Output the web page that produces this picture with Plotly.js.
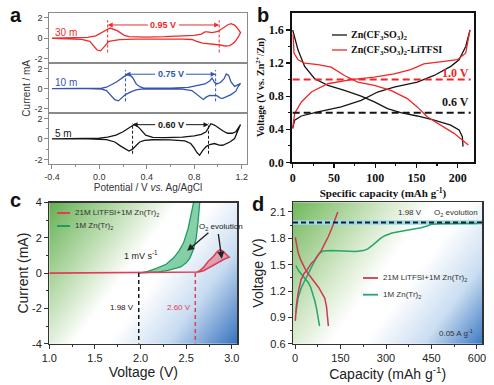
<!DOCTYPE html>
<html><head><meta charset="utf-8">
<script src="https://cdn.plot.ly/plotly-3.0.1.min.js"></script>
<style>html,body{margin:0;padding:0;background:#fff}#chart{width:494px;height:385px}</style>
</head><body><div id="chart"></div>
<script>
// ---------------- DATA ----------------
// Panel a: cyclic voltammograms (potential V vs Ag/AgCl, current mA)
const cv30x = [-0.40,-0.20,-0.10,-0.03,0.03,0.09,0.15,0.21,0.25,0.30,0.40,0.55,0.70,0.80,0.86,0.89,0.91,0.95,1.00,1.04,1.08,1.11,1.14,1.17,1.19,
               1.17,1.14,1.10,1.06,1.02,0.97,0.92,0.87,0.82,0.78,0.70,0.50,0.30,0.17,0.12,0.08,0.04,0.01,-0.02,-0.05,-0.08,-0.15,-0.25,-0.40];
const cv30y = [0.00,0.02,0.08,0.23,0.60,1.00,0.74,0.29,0.16,0.13,0.12,0.15,0.20,0.28,0.40,0.62,0.63,0.55,0.66,0.95,1.30,1.42,1.28,0.90,0.55,
               0.10,-0.40,-0.72,-0.76,-0.66,-0.58,-0.52,-0.48,-0.30,-0.12,-0.08,-0.07,-0.08,-0.13,-0.20,-0.30,-0.85,-1.23,-1.15,-0.74,-0.30,-0.10,-0.04,-0.02];
const cv10x = [-0.40,-0.10,0.02,0.06,0.10,0.14,0.18,0.21,0.25,0.28,0.31,0.34,0.37,0.45,0.60,0.75,0.84,0.89,0.93,0.95,0.97,0.99,1.02,1.05,1.07,1.09,1.11,1.14,1.17,1.19,
               1.17,1.15,1.11,1.07,1.04,1.02,0.99,0.93,0.90,0.876,0.85,0.82,0.78,0.70,0.50,0.35,0.31,0.27,0.22,0.19,0.16,0.13,0.10,0.06,0.02,-0.10,-0.40];
const cv10y = [0.00,0.00,0.03,0.13,0.35,0.62,0.95,1.20,1.42,1.10,0.46,0.18,0.07,0.04,0.05,0.12,0.29,0.45,0.75,1.04,0.62,0.46,0.60,0.95,1.45,1.30,0.65,0.22,0.38,0.52,
               0.20,-0.26,-0.60,-0.80,-0.98,-0.95,-0.70,-0.68,-0.85,-1.08,-0.85,-0.52,-0.20,-0.06,-0.04,-0.06,-0.13,-0.30,-0.60,-0.95,-1.22,-1.10,-0.69,-0.20,-0.05,0.00,0.00];
const cv5x = [-0.40,-0.10,0.00,0.07,0.14,0.20,0.24,0.27,0.30,0.34,0.39,0.45,0.55,0.70,0.80,0.86,0.90,0.92,0.94,0.97,1.00,1.04,1.08,1.12,1.15,1.17,1.19,
              1.16,1.14,1.10,1.07,1.04,1.01,0.97,0.93,0.90,0.87,0.845,0.82,0.80,0.77,0.72,0.60,0.45,0.38,0.34,0.31,0.28,0.25,0.22,0.18,0.13,0.06,-0.10,-0.40];
const cv5y = [0.00,0.02,0.07,0.18,0.37,0.70,1.00,1.30,1.46,1.03,0.37,0.15,0.12,0.18,0.30,0.45,0.70,1.10,1.48,1.35,1.10,0.80,0.55,0.55,0.70,1.00,1.40,
              0.60,0.04,-0.30,-0.50,-0.62,-0.60,-0.45,-0.55,-0.75,-1.15,-1.60,-1.30,-0.90,-0.45,-0.20,-0.10,-0.08,-0.15,-0.30,-0.65,-1.00,-1.19,-1.00,-0.70,-0.30,-0.07,0.00,0.00];
const cvLabels = ['30 m','10 m','5 m'];
const cvPeaks = [[0.07,1.01],[0.22,0.98],[0.28,0.92]];
const cvGapLabels = ['0.95 V','0.75 V','0.60 V'];
const aXTicks = [-0.4, 0, 0.4, 0.8, 1.2];
const aXTickText = ['-0.4', '0.0', '0.4', '0.8', '1.2'];
const aYTicks = [-2, 0, 2];
const aYTickText = ['-2', '0', '2'];

// Panel b: charge/discharge profiles (mAh/g, V)
const bBlackDisX = [0,6.4,14.5,26.6,42.7,62.8,83,99,115,131,151,171.5,191.6,201.7,205.7,206.5];
const bBlackDisY = [1.60,1.36,1.16,1.01,0.93,0.87,0.80,0.73,0.65,0.60,0.56,0.51,0.45,0.39,0.31,0.19];
const bBlackChX = [0,2.4,10.5,30.6,58.8,83,103,123,151,171.5,191.7,201.7,209.8,215];
const bBlackChY = [0.41,0.51,0.56,0.61,0.67,0.75,0.85,0.91,0.97,1.05,1.16,1.24,1.40,1.60];
const bRedDisX = [0.5,1.6,6.4,14.5,30.6,46.7,62.8,78.9,99,119,139,151,163,179.6,195.6,213];
const bRedDisY = [1.55,1.32,1.24,1.20,1.18,1.15,1.05,0.97,0.93,0.87,0.77,0.67,0.55,0.45,0.35,0.21];
const bRedChX = [0,2.4,10.5,22.6,42.6,70.9,99,123,143,159,183.6,199.6,209.8,215];
const bRedChY = [0.41,0.59,0.73,0.85,0.95,1.00,1.03,1.07,1.12,1.19,1.22,1.24,1.32,1.60];
const bSeriesNames = ['Zn(CF<sub>3</sub>SO<sub>3</sub>)<sub>2</sub>','Zn(CF<sub>3</sub>SO<sub>3</sub>)<sub>2</sub>-LiTFSI'];
const bRefLevels = [1.0, 0.6];
const bRefLabels = ['1.0 V','0.6 V'];

// Panel c: linear sweep (V, mA)
const cRedX = [1.00,2.60,2.64,2.69,2.75,2.80,2.86,2.92,2.97,2.93,2.90,2.87,2.84,2.80,2.74,2.69,2.64,2.60];
const cRedY = [0.00,0.02,0.06,0.13,0.30,0.47,0.65,0.80,0.90,1.10,1.25,1.32,1.22,0.95,0.66,0.32,0.10,0.02];
const cGreenX = [1.98,2.10,2.20,2.30,2.38,2.44,2.50,2.54,2.58,2.61,2.63,2.65,
                 2.585,2.56,2.52,2.47,2.42,2.36,2.28,2.18,2.08,2.00];
const cGreenY = [0.00,0.02,0.07,0.15,0.25,0.35,0.58,0.85,1.35,2.00,2.90,4.10,
                 4.10,3.40,2.50,1.70,1.25,0.85,0.50,0.28,0.10,0.01];
const cOnsets = [1.98, 2.60];
const cOnsetLabels = ['1.98 V','2.60 V'];
const cNames = ['21M LiTFSI+1M Zn(Tr)<sub>2</sub>','1M Zn(Tr)<sub>2</sub>'];
const cYTicks = [-4, -2, 0, 2, 4];
const cYTickText = ['-4', '-2', '0', '2', '4'];

// Panel d: charge/discharge (mAh/g, V)
const dRedChX = [1,5,11,20,30,38,45,55,65,75,85,98,110,122,132,141];
const dRedChY = [0.86,1.05,1.19,1.33,1.40,1.43,1.47,1.52,1.55,1.60,1.65,1.74,1.82,1.92,2.01,2.10];
const dRedDisX = [1,5,10,18,26,35,43,52,60,70,78,88,98,104,108,110];
const dRedDisY = [1.81,1.72,1.64,1.56,1.50,1.44,1.40,1.36,1.32,1.28,1.24,1.18,1.12,1.02,0.90,0.80];
const dGreenChX = [3,10,21,32,43,55,70,80,92,120,160,200,225,240,255,268,282,296,320,350,385,416,435,450,480,520,560,600];
const dGreenChY = [0.95,1.12,1.24,1.32,1.39,1.47,1.58,1.63,1.655,1.66,1.655,1.65,1.66,1.68,1.72,1.76,1.80,1.83,1.86,1.88,1.90,1.92,1.94,1.96,1.965,1.97,1.97,1.97];
const dGreenDisX = [3,12,26,43,52,60,66,71,76,81];
const dGreenDisY = [1.49,1.43,1.37,1.30,1.24,1.16,1.08,1.00,0.90,0.80];
const dO2Level = 1.98;

// ---------------- STYLE / LAYOUT ----------------
const W = 494, H = 385;
const fx = p => p / W, fy = p => 1 - p / H;
const dom = (a, b) => [a / W, b / W];
const domY = (top, bot) => [1 - bot / H, 1 - top / H];
const SANS = 'Liberation Sans, Arial, sans-serif';
const SERIF = 'Liberation Serif, Times New Roman, serif';
const RED_A = '#ee2b2b', BLUE_A = '#3454b4', BLK = '#151515';
const RED_B = '#f02626';
const RED_C = '#de3f58', GREEN_C = '#1f9d60';
const RED_D = '#cc3a56', GREEN_D = '#27a46f';
const cvColors = [RED_A, BLUE_A, BLK];
const NB = '\u00a0';

function grad(w, h, stops) {
  const c = document.createElement('canvas'); c.width = w; c.height = h;
  const g = c.getContext('2d'); const lg = g.createLinearGradient(0, 0, w, h);
  stops.forEach(s => lg.addColorStop(s[0], s[1]));
  g.fillStyle = lg; g.fillRect(0, 0, w, h); return c.toDataURL('image/png');
}

const traces = [];
const cvX = [cv30x, cv10x, cv5x], cvY = [cv30y, cv10y, cv5y];
const axSuffix = ['', '2', '3'];
for (let i = 0; i < 3; i++) {
  traces.push({x: cvX[i], y: cvY[i], xaxis: 'x' + axSuffix[i], yaxis: 'y' + axSuffix[i], mode: 'lines',
    name: cvLabels[i], line: {color: cvColors[i], width: 1.3}, hoverinfo: 'skip'});
}
traces.push({x: bBlackDisX, y: bBlackDisY, xaxis: 'x4', yaxis: 'y4', mode: 'lines', name: bSeriesNames[0], line: {color: BLK, width: 1.3}});
traces.push({x: bBlackChX, y: bBlackChY, xaxis: 'x4', yaxis: 'y4', mode: 'lines', name: bSeriesNames[0], line: {color: BLK, width: 1.3}});
traces.push({x: bRedDisX, y: bRedDisY, xaxis: 'x4', yaxis: 'y4', mode: 'lines', name: bSeriesNames[1], line: {color: RED_B, width: 1.3}});
traces.push({x: bRedChX, y: bRedChY, xaxis: 'x4', yaxis: 'y4', mode: 'lines', name: bSeriesNames[1], line: {color: RED_B, width: 1.3}});
traces.push({x: cGreenX, y: cGreenY, xaxis: 'x5', yaxis: 'y5', mode: 'lines', fill: 'toself', fillcolor: 'rgba(55,178,110,0.6)', name: cNames[1], line: {color: GREEN_C, width: 1.3}});
traces.push({x: cRedX, y: cRedY, xaxis: 'x5', yaxis: 'y5', mode: 'lines', fill: 'toself', fillcolor: 'rgba(232,105,120,0.55)', name: cNames[0], line: {color: RED_C, width: 1.6}});
traces.push({x: dGreenChX, y: dGreenChY, xaxis: 'x6', yaxis: 'y6', mode: 'lines', name: cNames[1], line: {color: GREEN_D, width: 1.5}});
traces.push({x: dGreenDisX, y: dGreenDisY, xaxis: 'x6', yaxis: 'y6', mode: 'lines', name: cNames[1], line: {color: GREEN_D, width: 1.5}});
traces.push({x: dRedChX, y: dRedChY, xaxis: 'x6', yaxis: 'y6', mode: 'lines', name: cNames[0], line: {color: RED_D, width: 1.5}});
traces.push({x: dRedDisX, y: dRedDisY, xaxis: 'x6', yaxis: 'y6', mode: 'lines', name: cNames[0], line: {color: RED_D, width: 1.5}});

const base = {zeroline: false, showgrid: false, showline: true, mirror: true, fixedrange: true, automargin: false};
const aLine = {linecolor: '#8a8a8a', linewidth: 1, tickcolor: '#8a8a8a'};
const aTick = {family: SANS, size: 9, color: '#333'};
const aDomX = dom(49.3, 246.7);
const aDomsY = [domY(12.7, 63.3), domY(63.3, 113.3), domY(113.3, 164)];
const layout = {
  width: W, height: H, margin: {l: 0, r: 0, t: 0, b: 0},
  paper_bgcolor: '#fff', plot_bgcolor: 'rgba(0,0,0,0)', showlegend: false,
  font: {family: SANS, size: 10, color: '#222'},
  shapes: [], annotations: [], images: []
};
for (let i = 0; i < 3; i++) {
  layout['xaxis' + axSuffix[i]] = Object.assign({}, base, aLine, {domain: aDomX, range: [-0.422, 1.242], anchor: 'y' + axSuffix[i],
    showticklabels: i === 2, ticks: i === 2 ? 'outside' : '', ticklen: 4,
    tickmode: 'array', tickvals: aXTicks, ticktext: aXTickText, tickfont: aTick,
    minor: i === 2 ? {tickvals: [-0.2, 0.2, 0.6, 1.0], ticks: 'outside', ticklen: 2, tickcolor: '#8a8a8a'} : undefined,
    title: i === 2 ? {text: 'Potential / V <i>vs.</i> Ag/AgCl', font: {family: SANS, size: 10, color: '#333'}, standoff: 3} : undefined});
  layout['yaxis' + axSuffix[i]] = Object.assign({}, base, aLine, {domain: aDomsY[i], range: [-2.45, 2.5], anchor: 'x' + axSuffix[i],
    tickmode: 'array', tickvals: aYTicks, ticktext: aYTickText, ticks: 'outside', ticklen: 4, tickfont: aTick,
    minor: {tickvals: [-1, 1], ticks: 'outside', ticklen: 2, tickcolor: '#8a8a8a'},
    title: i === 1 ? {text: 'Current / mA', font: {family: SANS, size: 10, color: '#333'}, standoff: 1} : undefined});
}
const bTick = {family: SERIF, size: 12, color: '#111', weight: 'bold'};
layout.xaxis4 = Object.assign({}, base, {domain: dom(291.7, 474.3), range: [-1.2, 220.2], anchor: 'y4',
  linecolor: '#111', linewidth: 1.5, ticks: 'outside', ticklen: 4, tickwidth: 1.2, tickcolor: '#111',
  tickvals: [0, 50, 100, 150, 200], tickfont: bTick,
  minor: {tickvals: [25, 75, 125, 175], ticks: 'outside', ticklen: 2, tickcolor: '#111'},
  title: {text: 'Specific capacity (mAh g<sup>-1</sup>)', font: {family: SERIF, size: 11, color: '#111', weight: 'bold'}, standoff: 5}});
layout.yaxis4 = Object.assign({}, base, {domain: domY(12.7, 162.3), range: [0, 1.809], anchor: 'x4',
  linecolor: '#111', linewidth: 1.5, ticks: 'outside', ticklen: 4, tickwidth: 1.2, tickcolor: '#111',
  tickvals: [0, 0.4, 0.8, 1.2, 1.6], tickformat: '.1f', tickfont: bTick,
  minor: {tickvals: [0.2, 0.6, 1.0, 1.4], ticks: 'outside', ticklen: 2, tickcolor: '#111'},
  title: {text: 'Voltage (V vs. Zn<sup>2+</sup>/Zn)' + NB.repeat(8), font: {family: SERIF, size: 10, color: '#111', weight: 'bold'}, standoff: 2}});
const cdTick = {family: SANS, size: 11, color: '#222'};
const cdTitle = {family: SANS, size: 14, color: '#222'};
const cdLine = {linecolor: '#333', linewidth: 1.2, tickcolor: '#333', ticks: 'outside', ticklen: 4};
layout.xaxis5 = Object.assign({}, base, cdLine, {domain: dom(49.3, 237.3), range: [1.0, 3.06], anchor: 'y5',
  tickvals: [1, 1.5, 2, 2.5, 3], tickformat: '.1f', tickfont: cdTick,
  minor: {tickvals: [1.25, 1.75, 2.25, 2.75], ticks: 'outside', ticklen: 2, tickcolor: '#333'},
  title: {text: 'Voltage (V)', font: cdTitle, standoff: 4}});
layout.yaxis5 = Object.assign({}, base, cdLine, {domain: domY(202.5, 343.7), range: [-4, 4], anchor: 'x5',
  tickmode: 'array', tickvals: cYTicks, ticktext: cYTickText, tickfont: cdTick,
  minor: {tickvals: [-3, -1, 1, 3], ticks: 'outside', ticklen: 2, tickcolor: '#333'},
  title: {text: 'Current (mA)', font: cdTitle, standoff: 0}});
layout.xaxis6 = Object.assign({}, base, cdLine, {domain: dom(293, 482.3), range: [-6.6, 617.5], anchor: 'y6',
  tickvals: [0, 150, 300, 450, 600], tickfont: cdTick,
  minor: {tickvals: [75, 225, 375, 525], ticks: 'outside', ticklen: 2, tickcolor: '#333'},
  title: {text: 'Capacity (mAh g<sup>-1</sup>)', font: cdTitle, standoff: 4}});
layout.yaxis6 = Object.assign({}, base, cdLine, {domain: domY(202.3, 343.7), range: [0.6, 2.21], anchor: 'x6',
  tickvals: [0.6, 0.9, 1.2, 1.5, 1.8, 2.1], tickformat: '.1f', tickfont: cdTick,
  minor: {tickvals: [0.75, 1.05, 1.35, 1.65, 1.95], ticks: 'outside', ticklen: 2, tickcolor: '#333'},
  title: {text: 'Voltage (V)', font: cdTitle, standoff: 3}});

// gradient backgrounds
layout.images.push({source: grad(188, 141, [[0, 'rgb(100,176,82)'], [0.3, 'rgb(205,230,195)'], [0.44, '#ffffff'], [0.56, '#ffffff'], [0.76, 'rgb(200,220,241)'], [1, 'rgb(55,115,192)']]),
  xref: 'paper', yref: 'paper', x: fx(49.3), y: fy(202.5), sizex: (237.3 - 49.3) / W, sizey: (343.7 - 202.5) / H,
  xanchor: 'left', yanchor: 'top', sizing: 'stretch', layer: 'below'});
layout.images.push({source: grad(189, 141, [[0, 'rgb(115,184,92)'], [0.34, 'rgb(218,236,208)'], [0.48, '#ffffff'], [0.6, '#ffffff'], [0.8, 'rgb(203,222,242)'], [1, 'rgb(62,122,196)']]),
  xref: 'paper', yref: 'paper', x: fx(293), y: fy(202.3), sizex: (482.3 - 293) / W, sizey: (343.7 - 202.3) / H,
  xanchor: 'left', yanchor: 'top', sizing: 'stretch', layer: 'below'});

const S = layout.shapes, A = layout.annotations;
// panel a dashed markers + arrows
const arrowY = [1.3, 1.42, 1.39];
const dashSpan = [[-1.4, 1.76], [-1.27, 1.83], [-1.45, 1.52]];
for (let i = 0; i < 3; i++) {
  const xr = 'x' + axSuffix[i], yr = 'y' + axSuffix[i];
  cvPeaks[i].forEach(p => S.push({type: 'line', xref: xr, yref: yr, x0: p, x1: p, y0: dashSpan[i][0], y1: dashSpan[i][1],
    line: {color: cvColors[i], width: 1, dash: '3px,2px'}}));
  const mid = (cvPeaks[i][0] + cvPeaks[i][1]) / 2;
  [0, 1].forEach(k => A.push({xref: xr, yref: yr, axref: xr, ayref: yr, x: cvPeaks[i][k], y: arrowY[i], ax: mid, ay: arrowY[i],
    text: '<b>' + cvGapLabels[i] + '</b>', showarrow: true, arrowhead: 2, arrowsize: 1, arrowwidth: 1, arrowcolor: cvColors[i], standoff: 0,
    font: {family: SANS, size: 9, color: k === 0 ? cvColors[i] : 'rgba(0,0,0,0)'}, borderpad: 2}));
  A.push({xref: xr, yref: yr, x: -0.39, y: 0.56, text: cvLabels[i], showarrow: false, xanchor: 'left', yanchor: 'middle',
    font: {family: SANS, size: 10, color: cvColors[i]}});
}
// panel b reference lines
const bRefColors = [RED_B, BLK];
const bRefTextY = [1.076, 0.733];
for (let i = 0; i < 2; i++) {
  S.push({type: 'line', xref: 'x4', yref: 'y4', x0: 0, x1: 215.8, y0: bRefLevels[i], y1: bRefLevels[i],
    line: {color: bRefColors[i], width: 2, dash: '7px,4px'}});
  A.push({xref: 'x4', yref: 'y4', x: 216, y: bRefTextY[i], text: bRefLabels[i], showarrow: false, xanchor: 'right', yanchor: 'middle',
    font: {family: SERIF, size: 12, color: bRefColors[i], weight: 'bold'}});
}
// panel b legend
[[BLK, 35], [RED_B, 50]].forEach((e, i) => {
  S.push({type: 'line', xref: 'paper', yref: 'paper', x0: fx(332), x1: fx(347), y0: fy(e[1]), y1: fy(e[1]), line: {color: e[0], width: 1.3}});
  A.push({xref: 'paper', yref: 'paper', x: fx(349), y: fy(e[1]), text: bSeriesNames[i], showarrow: false, xanchor: 'left', yanchor: 'middle',
    font: {family: SERIF, size: 10, color: '#111', weight: 'bold'}});
});
// panel c onset lines
const cOnsetColors = [BLK, RED_C];
for (let i = 0; i < 2; i++) {
  S.push({type: 'line', xref: 'x5', yref: 'y5', x0: cOnsets[i], x1: cOnsets[i], y0: 0, y1: -4,
    line: {color: cOnsetColors[i], width: 1.5, dash: '4px,3px'}});
  A.push({xref: 'x5', yref: 'y5', x: cOnsets[i] - 0.03, y: -1.94, text: cOnsetLabels[i], showarrow: false, xanchor: 'right', yanchor: 'middle',
    font: {family: SANS, size: 8, color: cOnsetColors[i]}});
}
A.push({xref: 'x5', yref: 'y5', x: 2.0, y: 1.05, text: '1 mV s<sup>-1</sup>', showarrow: false, xanchor: 'center', yanchor: 'middle', font: {family: SANS, size: 9, color: '#222'}});
A.push({xref: 'x5', yref: 'y5', x: 2.88, y: 2.6, text: 'O<sub>2</sub> evolution', showarrow: false, xanchor: 'center', yanchor: 'middle', font: {family: SANS, size: 8, color: '#222'}});
A.push({xref: 'x5', yref: 'y5', axref: 'x5', ayref: 'y5', x: 2.51, y: 1.26, ax: 2.76, ay: 2.36, text: '', showarrow: true,
  arrowhead: 2, arrowsize: 1, arrowwidth: 1.4, arrowcolor: '#222'});
A.push({xref: 'x5', yref: 'y5', axref: 'x5', ayref: 'y5', x: 2.89, y: 0.82, ax: 2.85, ay: 2.3, text: '', showarrow: true,
  arrowhead: 2, arrowsize: 1, arrowwidth: 1.4, arrowcolor: '#222'});
// panel c legend
[[RED_C, 213], [GREEN_C, 226]].forEach((e, i) => {
  S.push({type: 'line', xref: 'paper', yref: 'paper', x0: fx(57), x1: fx(70), y0: fy(e[1]), y1: fy(e[1]), line: {color: e[0], width: 2}});
  A.push({xref: 'paper', yref: 'paper', x: fx(73), y: fy(e[1]), text: cNames[i], showarrow: false, xanchor: 'left', yanchor: 'middle',
    font: {family: SANS, size: 8, color: '#333'}});
});
// panel d O2 band
S.push({type: 'rect', xref: 'x6', yref: 'y6', x0: -6.6, x1: 617.5, y0: dO2Level - 0.027, y1: dO2Level + 0.025,
  fillcolor: 'rgb(150,220,236)', line: {width: 0}, layer: 'below'});
S.push({type: 'line', xref: 'x6', yref: 'y6', x0: -6.6, x1: 617.5, y0: dO2Level, y1: dO2Level,
  line: {color: '#1a1a2a', width: 2, dash: '5px,3px'}});
A.push({xref: 'x6', yref: 'y6', x: 378, y: 2.09, text: '1.98 V', showarrow: false, xanchor: 'center', yanchor: 'middle', font: {family: SANS, size: 8, color: '#333'}});
A.push({xref: 'x6', yref: 'y6', x: 531, y: 2.09, text: 'O<sub>2</sub> evolution', showarrow: false, xanchor: 'center', yanchor: 'middle', font: {family: SANS, size: 8, color: '#333'}});
A.push({xref: 'x6', yref: 'y6', x: 531, y: 0.72, text: '0.05 A g<sup>-1</sup>', showarrow: false, xanchor: 'center', yanchor: 'middle', font: {family: SANS, size: 8, color: '#333'}});
[[RED_D, 278], [GREEN_D, 294.7]].forEach((e, i) => {
  S.push({type: 'line', xref: 'paper', yref: 'paper', x0: fx(363), x1: fx(378), y0: fy(e[1]), y1: fy(e[1]), line: {color: e[0], width: 1.8}});
  A.push({xref: 'paper', yref: 'paper', x: fx(381), y: fy(e[1]), text: cNames[i], showarrow: false, xanchor: 'left', yanchor: 'middle',
    font: {family: SANS, size: 8, color: '#333'}});
});
// panel letters
[['a', 16, 15], ['b', 263, 15], ['c', 15.5, 200], ['d', 258, 204]].forEach(l => {
  A.push({xref: 'paper', yref: 'paper', x: fx(l[1]), y: fy(l[2]), text: '<b>' + l[0] + '</b>', showarrow: false,
    xanchor: 'center', yanchor: 'middle', font: {family: SANS, size: 20, color: '#111'}});
});

Plotly.newPlot('chart', traces, layout, {displayModeBar: false, staticPlot: true});
</script></body></html>
